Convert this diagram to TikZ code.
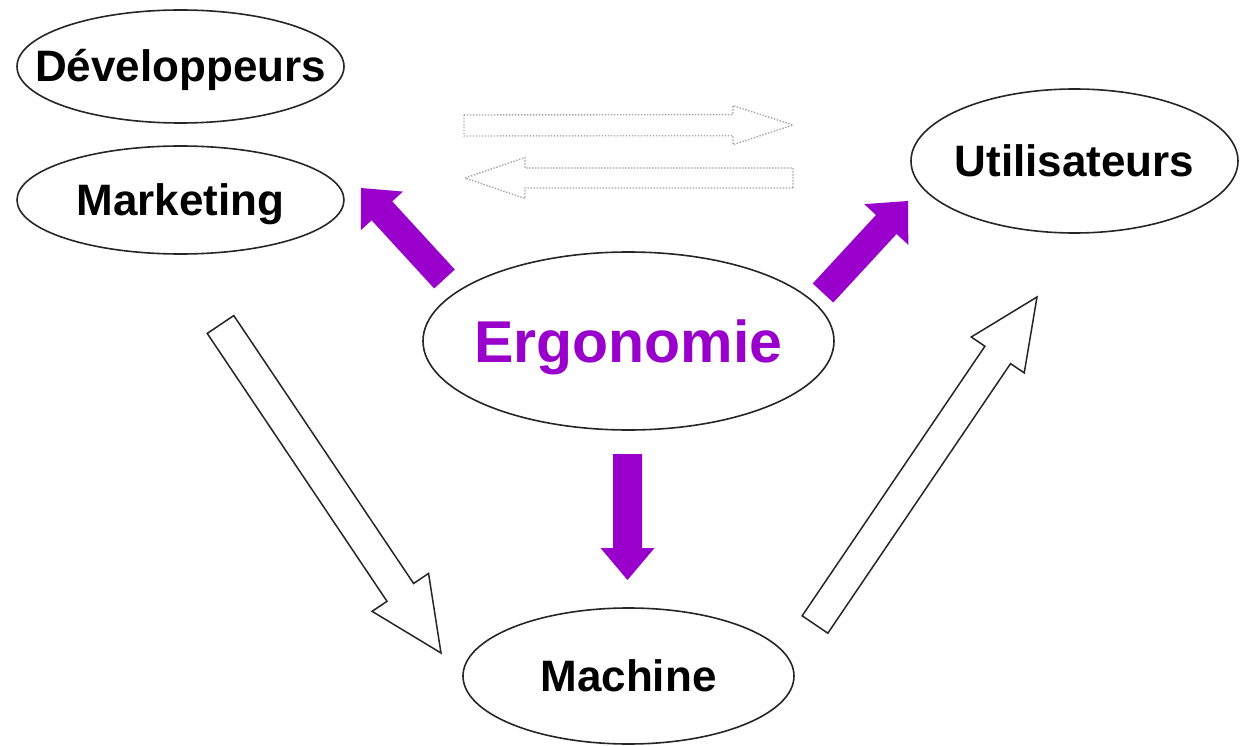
\documentclass[tikz,border=0pt]{standalone}
\usepackage{fontspec}
\setmainfont{Liberation Sans}
\usetikzlibrary{shapes.geometric,calc}
\definecolor{ergo}{RGB}{153,0,204}
% #1 style, #2 start coordinate, #3 tip coordinate, #4 half shaft width, #5 half head width, #6 head length
\newcommand\blockarrow[6]{%
  \coordinate (ba-j) at ($(#3)!#6!(#2)$);
  \draw[#1] ($(#2)!#4!90:(#3)$) -- ($(ba-j)!#4!90:(#3)$) -- ($(ba-j)!#5!90:(#3)$) -- (#3)
    -- ($(ba-j)!#5!-90:(#3)$) -- ($(ba-j)!#4!-90:(#3)$) -- ($(#2)!#4!-90:(#3)$) -- cycle;}
\begin{document}
\begin{tikzpicture}[x=1pt,y=-1pt,
  oval/.style={ellipse,draw=black!85,line width=1.6pt,inner xsep=-60pt,inner ysep=-30pt,
    font=\bfseries\fontsize{44}{44}\selectfont,text height=31pt,text depth=0pt},
  purplearrow/.style={fill=ergo,draw=none},
  hollowarrow/.style={draw=black!85,line width=1.5pt,fill=white,line join=miter},
  dotarrow/.style={draw=black!35,line width=1.4pt,dash pattern=on 1.4pt off 1.6pt}]
\useasboundingbox (0,0) rectangle (1240,746);
\fill[white] (0,0) rectangle (1240,746);

\node[oval,minimum width=327pt,minimum height=113pt] (dev) at (180.5,66.5) {Développeurs};
\node[oval,minimum width=327pt,minimum height=108pt] (mkt) at (180.5,200) {Marketing};
\node[oval,minimum width=327pt,minimum height=144pt] (util) at (1074.5,161) {Utilisateurs};
\node[oval,minimum width=411pt,minimum height=178pt,font=\bfseries\fontsize{59}{59}\selectfont,
  text=ergo,text height=42pt] (ergo) at (628.5,341) {Ergonomie};
\node[oval,minimum width=331pt,minimum height=136pt] (mach) at (628.5,676) {Machine};

% purple arrows from Ergonomie
\coordinate (pl-s) at (444.5,279); \coordinate (pl-e) at (361,188);
\blockarrow{purplearrow}{pl-s}{pl-e}{14pt}{28.5pt}{31pt}
\coordinate (pr-s) at (823,293); \coordinate (pr-e) at (908,201);
\blockarrow{purplearrow}{pr-s}{pr-e}{14pt}{30pt}{32pt}
\coordinate (pd-s) at (627.5,454); \coordinate (pd-e) at (627.5,580);
\blockarrow{purplearrow}{pd-s}{pd-e}{14.5pt}{27pt}{32pt}

% hollow arrows
\coordinate (hl-s) at (220.5,324.5); \coordinate (hl-e) at (441,653);
\blockarrow{hollowarrow}{hl-s}{hl-e}{16pt}{34pt}{73pt}
\coordinate (hr-s) at (815,624.5); \coordinate (hr-e) at (1037,297);
\blockarrow{hollowarrow}{hr-s}{hr-e}{15.5pt}{32pt}{70pt}

% dotted arrows
\coordinate (dt-s) at (464,125.5); \coordinate (dt-e) at (793,125);
\blockarrow{dotarrow}{dt-s}{dt-e}{10.5pt}{19.5pt}{60pt}
\coordinate (db-s) at (793,178); \coordinate (db-e) at (465,178);
\blockarrow{dotarrow}{db-s}{db-e}{10pt}{20.5pt}{60pt}
\end{tikzpicture}
\end{document}
